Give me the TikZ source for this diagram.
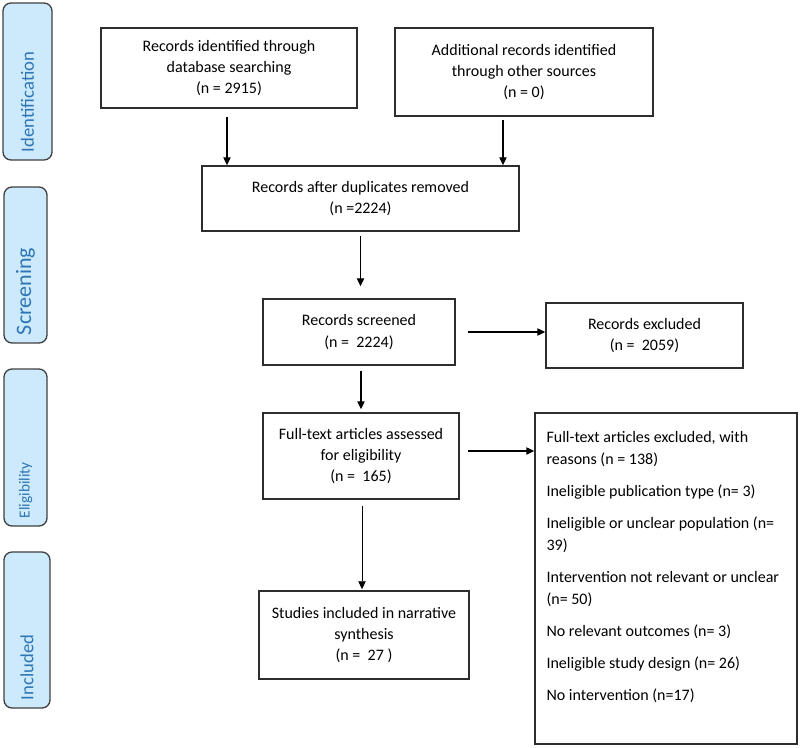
\documentclass[tikz,border=0pt]{standalone}
\usepackage{fontspec}
\setmainfont{Carlito}
\usepackage{tikz}
\usetikzlibrary{arrows.meta}
\definecolor{stagefill}{RGB}{205,234,252}
\definecolor{stagetext}{RGB}{46,117,182}
\definecolor{stageline}{RGB}{64,64,64}
\definecolor{boxline}{RGB}{45,45,45}
\tikzset{box/.style={draw=boxline, line width=1.1pt, align=center, inner sep=0pt,
  font=\fontsize{12}{16}\selectfont}}
\tikzset{stage/.style={draw=stageline, fill=stagefill, text=stagetext, line width=1pt,
  rounded corners=6pt, rotate=90, align=left, inner xsep=6pt, inner ysep=0pt}}
\tikzset{arr/.style={-{Triangle[length=6pt,width=5.5pt]}, line width=0.9pt}}

\begin{document}
\begin{tikzpicture}[x=0.75pt, y=-0.75pt]
\useasboundingbox (0,0) rectangle (800,747);

\node (ident) [stage, minimum width=117.75pt, minimum height=36.75pt, text width=105.75pt,
  font=\fontsize{14}{16}\selectfont] at (27.5,81.5) {Identification};
\node (screen) [stage, minimum width=117pt, minimum height=32.25pt, text width=105pt,
  font=\fontsize{16.5}{18}\selectfont] at (25.5,265) {Screening};
\node (elig) [stage, minimum width=117.75pt, minimum height=32.25pt, text width=105.75pt,
  font=\fontsize{11.5}{13}\selectfont] at (25.5,447.5) {Eligibility};
\node (incl) [stage, minimum width=117pt, minimum height=34.5pt, text width=105pt,
  font=\fontsize{14}{16}\selectfont] at (27,630) {Included};

\node (dbsearch) [box, minimum width=192pt, minimum height=60pt] at (229,68)
  {Records identified through\\database searching\\(n = 2915)};
\node (othersrc) [box, minimum width=193.5pt, minimum height=66pt] at (524,72)
  {Additional records identified\\through other sources\\(n = 0)};
\node (dupremoved) [box, minimum width=237.75pt, minimum height=48.75pt] at (360.5,198.5)
  {Records after duplicates removed\\(n =2224)};
\node (screened) [box, minimum width=144pt, minimum height=49.5pt] at (359,332)
  {Records screened\\(n = ~2224)};
\node (excluded) [box, minimum width=147.75pt, minimum height=48.75pt] at (644.5,335.5)
  {Records excluded\\(n = ~2059)};
\node (fulltext) [box, minimum width=147pt, minimum height=64.5pt] at (361,456)
  {Full-text articles assessed\\for eligibility\\(n = ~165)};
\node (ftexcluded) [box, minimum width=196.5pt, minimum height=248.25pt] at (666,578.5) {};
\node (reasons) [anchor=north west, align=left, inner sep=0pt, font=\fontsize{12}{16.5}\selectfont]
  at ([xshift=9pt,yshift=-14.25pt]ftexcluded.north west)
  {Full-text articles excluded, with\\reasons (n = 138)\\[7.5pt]
   Ineligible publication type (n= 3)\\[7.5pt]
   Ineligible or unclear population (n=\\39)\\[7.5pt]
   Intervention not relevant or unclear\\(n= 50)\\[7.5pt]
   No relevant outcomes (n= 3)\\[7.5pt]
   Ineligible study design (n= 26)\\[7.5pt]
   No intervention (n=17)};
\node (included) [box, minimum width=157.5pt, minimum height=66pt] at (364,635)
  {Studies included in narrative\\synthesis\\(n = ~27 )};

\draw[arr, shorten <=6pt] ([xshift=-1.5pt]dbsearch.south) -- ([xshift=-1.5pt]dbsearch.south |- dupremoved.north);
\draw[arr, shorten <=2.25pt] ([xshift=-15.75pt]othersrc.south) -- ([xshift=-15.75pt]othersrc.south |- dupremoved.north);
\draw[arr, shorten <=3pt, shorten >=9pt] (dupremoved.south) -- (dupremoved.south |- screened.north);
\draw[arr, shorten <=9pt] (screened.east) -- (screened.east -| excluded.west);
\draw[arr, shorten <=3.75pt, shorten >=2.25pt] ([xshift=1.5pt]screened.south) -- ([xshift=1.5pt]screened.south |- fulltext.north);
\draw[arr, shorten <=6pt] ([yshift=3.75pt]fulltext.east) -- ([yshift=3.75pt]fulltext.east -| ftexcluded.west);
\draw[arr, line width=0.6pt, shorten <=4.5pt, shorten >=0.75pt] ([xshift=0.75pt]fulltext.south) -- ([xshift=0.75pt]fulltext.south |- included.north);

\end{tikzpicture}
\end{document}
